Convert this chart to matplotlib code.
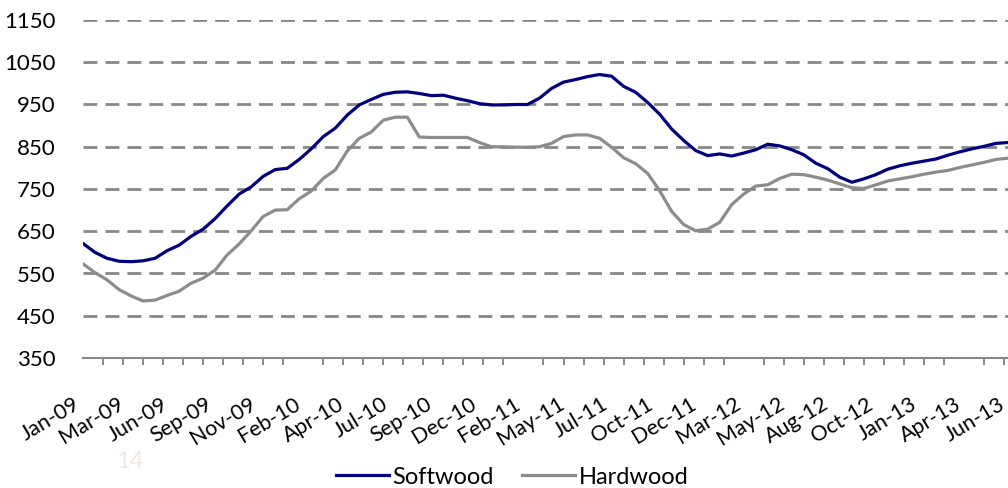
import matplotlib
matplotlib.use("Agg")
import matplotlib.pyplot as plt
from matplotlib.transforms import ScaledTranslation

plt.rcParams['lines.scale_dashes'] = False
plt.rcParams['font.family'] = ['Lato', 'DejaVu Sans']

# Weekly index (every 3rd week sampled), Jan-09 .. Jun-13
weeks = list(range(0, 232, 3))

softwood = [621, 600, 586, 579, 578, 580, 586, 604, 617, 638, 655, 680, 710, 738, 755, 780, 796, 799, 820, 845,
            874, 894, 925, 949, 962, 974, 979, 980, 976, 971, 972, 965, 959, 952, 949, 949, 950, 950, 965, 988,
            1003, 1009, 1016, 1021, 1017, 993, 979, 955, 927, 892, 865, 841, 829, 833, 828, 835, 843, 856, 852, 843,
            831, 811, 798, 778, 766, 774, 784, 797, 805, 811, 816, 821, 830, 838, 845, 851, 858, 860]

hardwood = [573, 552, 535, 512, 497, 485, 487, 498, 508, 527, 539, 558, 594, 620, 651, 685, 700, 701, 727, 745,
            775, 795, 840, 870, 885, 913, 920, 920, 873, 872, 872, 872, 872, 860, 850, 850, 849, 849, 850, 858,
            874, 878, 878, 870, 849, 824, 810, 787, 746, 697, 666, 651, 655, 671, 713, 738, 757, 760, 775, 785,
            784, 778, 771, 762, 753, 751, 760, 769, 774, 779, 785, 790, 794, 801, 807, 813, 820, 823]

x_labels = ['Jan-09', 'Mar-09', 'Jun-09', 'Sep-09', 'Nov-09', 'Feb-10', 'Apr-10', 'Jul-10', 'Sep-10',
            'Dec-10', 'Feb-11', 'May-11', 'Jul-11', 'Oct-11', 'Dec-11', 'Mar-12', 'May-12', 'Aug-12',
            'Oct-12', 'Jan-13', 'Apr-13', 'Jun-13']
label_step = 11
tick_step = 5
y_ticks = [350, 450, 550, 650, 750, 850, 950, 1050, 1150]

grid_color = '#878787'
soft_color = '#000080'
hard_color = '#8c8c8c'

fig = plt.figure(figsize=(10.08, 4.88), dpi=100)
ax = fig.add_axes([83/1008, 130/488, 925/1008, 338/488])

ax.plot(weeks, softwood, color=soft_color, lw=2.3, label='Softwood', solid_joinstyle='round', zorder=3)
ax.plot(weeks, hardwood, color=hard_color, lw=2.3, label='Hardwood', solid_joinstyle='round', zorder=2)

ax.set_xlim(0, 231)
ax.set_ylim(350, 1150)
ax.set_yticks(y_ticks)
ax.set_yticklabels([str(v) for v in y_ticks], fontsize=16)
ax.tick_params(axis='y', length=0, pad=20, labelcolor='black')

for v in y_ticks[1:]:
    ax.axhline(v, color=grid_color, lw=2.0, linestyle=(0, (10.0, 5.8)), zorder=1)

ax.set_xticks(range(0, 232, tick_step), minor=True)
ax.set_xticks([i * label_step for i in range(len(x_labels))])
ax.set_xticklabels(x_labels, fontsize=15.5, rotation=31, ha='right', va='center', rotation_mode='anchor')
ax.tick_params(axis='x', which='major', length=0, pad=32)
ax.tick_params(axis='x', which='minor', length=5, width=1.4, color=grid_color, direction='out')
shift = ScaledTranslation(-5/100, 0, fig.dpi_scale_trans)
for lab in ax.get_xticklabels():
    lab.set_transform(lab.get_transform() + shift)

for s in ['top', 'right', 'left']:
    ax.spines[s].set_visible(False)
ax.spines['bottom'].set_color(grid_color)
ax.spines['bottom'].set_linewidth(1.5)

fig.legend(loc='center', bbox_to_anchor=(512/1008, 11/488), ncol=2, frameon=False, fontsize=17,
           handlelength=2.25, handletextpad=0.15, columnspacing=1.2, borderpad=0)

fig.text(130/1008, 1 - 461/488, '14', fontsize=17, color='#ece9de', ha='center', va='center')

fig.savefig('out.png', dpi=100)
